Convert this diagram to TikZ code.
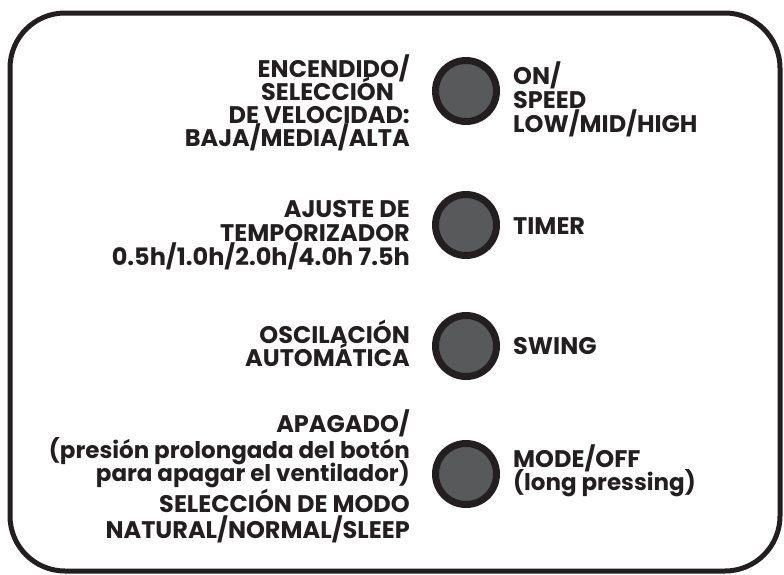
\documentclass[tikz,border=0pt]{standalone}
\usepackage{fontspec}
\setmainfont{Poppins}
\definecolor{ink}{HTML}{231F20}
\definecolor{btn}{HTML}{58595B}
\begin{document}
\begin{tikzpicture}[x=1pt,y=-1pt,
  lab/.style={inner sep=0pt, text=ink, font=\fontsize{24}{24}\selectfont\bfseries},
  small/.style={font=\fontsize{23}{23}\selectfont\bfseries},
  lft/.style={lab, anchor=base east},
  rgt/.style={lab, anchor=base west},
  button/.style={circle, draw=ink, line width=7pt, fill=btn, minimum size=61pt, inner sep=0pt}]
\useasboundingbox (0,0) rectangle (784,574);
\draw[ink, line width=5pt, rounded corners=55pt] (10,13) rectangle (780,571);
% buttons
\node[button] (b1) at (466,91) {};
\node[button] (b2) at (466,225) {};
\node[button] (b3) at (466,346) {};
\node[button] (b4) at (466,474) {};
% group 1
\node[lft] (l1a) at (410,77) {ENCENDIDO/};
\node[lft] (l1b) at (394,100) {SELECCIÓN};
\node[lft] (l1c) at (410,123) {DE VELOCIDAD:};
\node[lft] (l1d) at (410,146) {BAJA/MEDIA/ALTA};
\node[rgt] (r1a) at (513,84) {ON/};
\node[rgt] (r1b) at (513,108) {SPEED};
\node[rgt] (r1c) at (513,132) {LOW/MID/HIGH};
% group 2
\node[lft] (l2a) at (410,217) {AJUSTE DE};
\node[lft] (l2b) at (410,241) {TEMPORIZADOR};
\node[lft] (l2c) at (410,265) {0.5h/1.0h/2.0h/4.0h 7.5h};
\node[rgt] (r2a) at (513,234) {TIMER};
% group 3
\node[lft] (l3a) at (410,343) {OSCILACIÓN};
\node[lft] (l3b) at (410,366) {AUTOMÁTICA};
\node[rgt] (r3a) at (513,354) {SWING};
% group 4
\node[lft] (l4a) at (410,432) {APAGADO/};
\node[lft, small] (l4b) at (410,458) {(presión prolongada del botón};
\node[lft, small] (l4c) at (410,481) {para apagar el ventilador)};
\node[lft] (l4d) at (410,512) {SELECCIÓN DE MODO};
\node[lft] (l4e) at (410,538) {NATURAL/NORMAL/SLEEP};
\node[rgt] (r4a) at (513,467) {MODE/OFF};
\node[rgt, small] (r4b) at (513,490) {(long pressing)};
\end{tikzpicture}
\end{document}
